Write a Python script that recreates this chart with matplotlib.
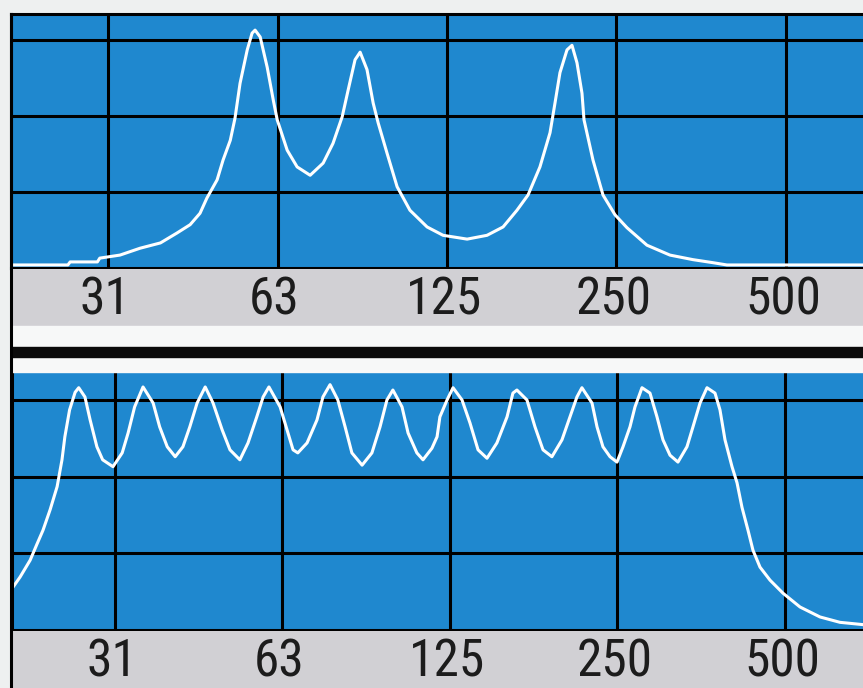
import matplotlib.pyplot as plt
from matplotlib import font_manager
from matplotlib.font_manager import FontProperties
from matplotlib.lines import Line2D
from matplotlib.patches import Rectangle
from matplotlib.transforms import ScaledTranslation

# 上图：三个共振峰 (频率 Hz, 电平 dB)
top_freq = [21.0, 26.5, 26.75, 29.9, 30.2, 32.8, 35.6, 38.7, 41.4, 43.7,
            45.5, 46.8, 48.8, 50.0, 51.5, 52.5, 53.6, 55.2, 56.3, 57.0,
            58.2, 59.9, 61.4, 62.4, 65.0, 67.7, 71.4, 75.3, 78.4, 81.4,
            83.4, 85.8, 87.6, 90.1, 92.4, 94.3, 97.8, 101.9, 107.4, 115.2,
            123.0, 135.7, 147.2, 157.2, 166.4, 174.1, 182.8, 190.5, 194.4, 198.4,
            204.2, 208.4, 212.7, 217.1, 218.9, 227.1, 236.6, 248.5, 261.0, 283.2,
            311.1, 341.8, 371.0, 392.8, 685.0]
top_level = [-29.6, -29.6, -29.2, -29.2, -28.7, -28.3, -27.4, -26.7, -25.4, -24.3,
             -22.8, -20.8, -18.4, -15.8, -13.2, -10.3, -5.7, -1.3, 0.9, 1.3,
             0.4, -3.6, -7.9, -10.5, -14.5, -16.7, -17.8, -16.2, -13.6, -10.1,
             -6.6, -2.6, -1.6, -3.9, -8.3, -10.9, -14.9, -19.3, -22.4, -24.6,
             -25.7, -26.2, -25.7, -24.6, -22.4, -20.4, -16.7, -12.2, -8.3, -4.3,
             -1.3, -0.7, -3.0, -7.0, -10.5, -15.8, -20.4, -23.0, -24.7, -27.0,
             -28.3, -28.9, -29.3, -29.6, -29.6]

# 下图：多峰平坦响应
bot_freq = [20.5, 21.1, 22.0, 22.6, 23.2, 23.9, 24.6, 25.1, 25.4, 25.9,
            26.5, 26.9, 27.6, 28.2, 29.0, 29.7, 31.0, 32.2, 33.0, 33.9,
            35.1, 36.6, 37.6, 38.8, 40.1, 41.4, 42.6, 43.9, 45.4, 46.9,
            48.7, 50.3, 52.4, 54.2, 56.2, 57.7, 59.1, 61.9, 63.7, 65.3,
            66.6, 69.2, 72.1, 73.9, 76.1, 78.6, 81.0, 83.3, 86.9, 90.5,
            93.6, 96.3, 98.7, 102.5, 105.1, 109.0, 111.8, 116.0, 118.5, 119.9,
            123.5, 126.6, 131.4, 135.8, 140.4, 145.7, 151.8, 158.3, 162.2, 164.9,
            171.9, 177.7, 183.7, 190.6, 198.7, 205.4, 211.4, 215.8, 225.0, 229.7,
            235.4, 242.4, 249.5, 255.8, 263.3, 268.8, 276.7, 286.0, 294.4, 301.8,
            310.7, 321.1, 333.3, 341.7, 351.8, 362.1, 374.3, 382.1, 390.1, 401.6,
            410.0, 418.5, 429.1, 438.0, 450.9, 470.0, 495.9, 532.1, 578.0, 627.8,
            690.5]
bot_level = [-24.4, -23.1, -20.9, -18.9, -17.0, -14.3, -11.3, -7.8, -4.8, -1.3,
             1.0, 1.6, 0.4, -2.6, -6.1, -7.8, -8.7, -6.9, -4.3, -0.9,
             1.7, -0.4, -3.5, -6.1, -7.4, -6.1, -3.5, -0.4, 1.7, -0.4,
             -3.9, -6.5, -7.8, -5.6, -2.2, 0.4, 1.7, -0.9, -3.9, -6.5,
             -6.9, -5.6, -2.6, 0.4, 2.0, 0.0, -3.5, -6.9, -8.5, -6.9,
             -3.5, 0.0, 1.3, -0.9, -4.3, -6.9, -7.8, -6.3, -4.8, -2.2,
             0.0, 1.6, 0.0, -3.0, -6.5, -7.6, -5.6, -2.2, 0.9, 1.3,
             0.0, -3.5, -6.5, -7.4, -5.2, -2.2, 0.4, 1.6, -0.4, -3.5,
             -6.1, -7.4, -8.1, -6.1, -3.5, -0.9, 1.6, 0.9, -2.2, -5.2,
             -7.2, -8.1, -6.1, -3.5, -0.4, 1.6, 0.9, -1.3, -5.2, -8.7,
             -10.8, -14.0, -17.0, -19.6, -21.8, -23.5, -25.2, -27.0, -28.3, -29.0,
             -29.3]

band_freq = [31.25, 62.5, 125, 250, 500]
band_labels = ['31', '63', '125', '250', '500']
level_grid = [-20, -10, 0]

W, H = 863, 688
BLUE = '#1f88cf'
GRAY = '#d1d0d4'

# 标签字体：原图像 Arial Narrow，有窄体就用，没有就用 Liberation Sans 稍小一号
label_font = FontProperties(family=['Liberation Sans', 'DejaVu Sans'], size=34)
for key in ('LiberationSansNarrow-Regular', 'ArialNarrow', 'RobotoCondensed-Regular'):
    hit = [f for f in font_manager.fontManager.ttflist if key in f.fname]
    if hit:
        label_font = FontProperties(fname=hit[0].fname, size=37)
        break

fig = plt.figure(figsize=(W / 100, H / 100), dpi=100)
fig.patch.set_facecolor('#eef0f0')
# 原图的数字比网格线略偏左几个像素
nudge = ScaledTranslation(-3 / 100, 0, fig.dpi_scale_trans)


def px_rect(x0, y0, x1, y1):
    return [x0 / W, 1 - y1 / H, (x1 - x0) / W, (y1 - y0) / H]


def panel(rect_plot, rect_strip, freq, level, xlim, ylim, top_spine):
    ax = fig.add_axes(rect_plot)
    ax.set_facecolor(BLUE)
    ax.set_xscale('log')
    ax.set_xlim(*xlim)
    ax.set_ylim(*ylim)
    ax.plot(freq, level, color='white', lw=2.2)
    ax.set_xticks(band_freq)
    ax.set_xticks([], minor=True)
    ax.set_yticks(level_grid)
    ax.tick_params(length=0, labelbottom=False, labelleft=False)
    ax.grid(True, color='black', lw=2.2)
    for s in ax.spines.values():
        s.set_color('black')
        s.set_linewidth(2.2)
    ax.spines['top'].set_visible(top_spine)
    ax.spines['right'].set_visible(False)

    sx = fig.add_axes(rect_strip, sharex=ax)
    sx.set_ylim(0, 1)
    sx.axis('off')
    sx.add_patch(Rectangle((0, 0), 1, 1, transform=sx.transAxes, color=GRAY, zorder=0))
    for f, lab in zip(band_freq, band_labels):
        sx.text(f, 0.196, lab, ha='center', va='baseline', color='#1c1c1c',
                fontproperties=label_font, transform=sx.transData + nudge)
    return ax


panel(px_rect(11, 14, 873, 268), px_rect(11, 269, 873, 326),
      top_freq, top_level, (21.0, 714), (-30, 3.42), True)

# 两图之间的白色区域和黑色横条
fig.patches.append(Rectangle((11 / W, 1 - 372 / H), (W - 11) / W, 46 / H,
                             transform=fig.transFigure, color='#f7f8f8', zorder=0))
fig.patches.append(Rectangle((11 / W, 1 - 357 / H), (W - 11) / W, 10 / H,
                             transform=fig.transFigure, color='#0b0b0b', zorder=1))

panel(px_rect(12, 372, 873, 630), px_rect(12, 631, 873, 688),
      bot_freq, bot_level, (20.41, 719.7), (-30, 3.65), False)

# 左侧黑色边框
fig.lines.append(Line2D([11 / W, 11 / W], [0, 1 - 14 / H], transform=fig.transFigure,
                        color='black', lw=2.2))

plt.savefig('out.png', dpi=100)
